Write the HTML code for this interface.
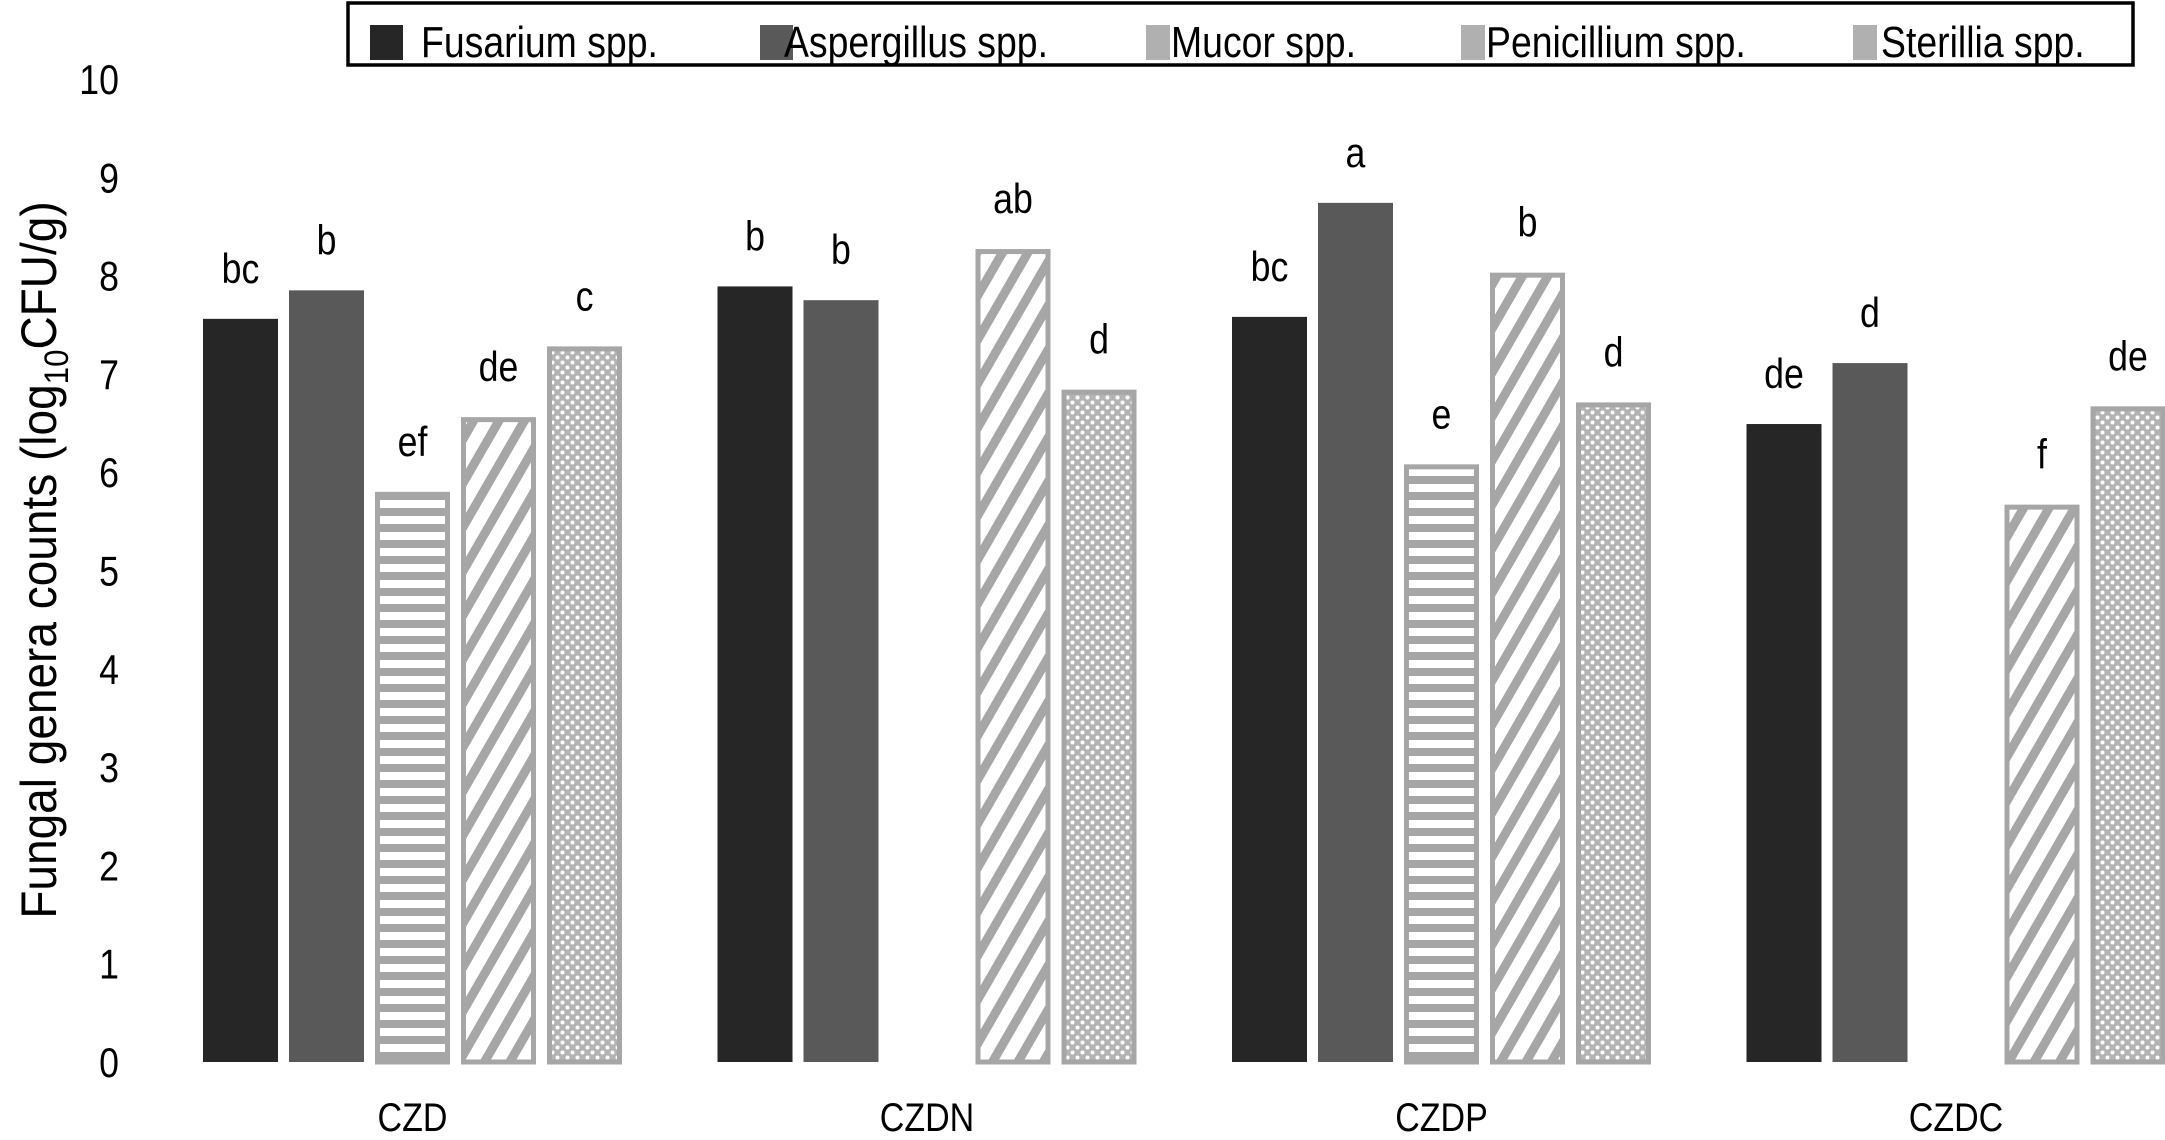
<!DOCTYPE html>
<html><head><meta charset="utf-8"><style>
html,body{margin:0;padding:0;background:#fff;}
svg{display:block;font-family:"Liberation Sans",sans-serif;}
</style></head><body>
<svg id="chart" width="2165" height="1140" viewBox="0 0 2165 1140" xmlns="http://www.w3.org/2000/svg">
<defs>
<pattern id="pat-mucor" patternUnits="userSpaceOnUse" width="20" height="16"><rect width="20" height="16" fill="#a6a6a6"/><rect x="0" y="4" width="20" height="8" fill="#fff"/></pattern>
<pattern id="pat-penic" patternUnits="userSpaceOnUse" width="22" height="22" patternTransform="rotate(30)"><rect width="22" height="22" fill="#fff"/><rect x="0" y="0" width="9" height="22" fill="#a6a6a6"/></pattern>
<pattern id="pat-steril" patternUnits="userSpaceOnUse" width="10" height="10"><rect width="10" height="10" fill="#b3b3b3"/><circle cx="2.5" cy="2.5" r="2" fill="#fff"/><circle cx="7.5" cy="7.5" r="2" fill="#fff"/></pattern>
</defs>
<g id="axes"></g>
<g id="bars"></g>
<g id="legend"></g>
</svg>
<script>
const categories = ["CZD","CZDN","CZDP","CZDC"];
const seriesNames = ["Fusarium spp.","Aspergillus spp.","Mucor spp.","Penicillium spp.","Sterillia spp."];
const fusarium = [7.56, 7.89, 7.58, 6.49];
const aspergillus = [7.85, 7.75, 8.74, 7.11];
const mucor = [5.80, 0, 6.08, 0];
const penicillium = [6.56, 8.27, 8.03, 5.67];
const sterillia = [7.28, 6.84, 6.71, 6.67];
const letFus = ["bc","b","bc","de"];
const letAsp = ["b","b","a","d"];
const letMuc = ["ef","","e",""];
const letPen = ["de","ab","b","f"];
const letSte = ["c","d","d","de"];
const yTicks = [0,1,2,3,4,5,6,7,8,9,10];

const NS = "http://www.w3.org/2000/svg";
const Y0 = 1062, Y10 = 79;
const SX = 0.85;
function yScale(v){ return Y0 - (Y0 - Y10) * v / 10; }
const groupStart = 203, groupStep = 514.5, barStep = 86, barW = 75;
function xBar(ci, si){ return groupStart + ci * groupStep + si * barStep; }
function xCat(ci){ return groupStart + ci * groupStep + (4 * barStep + barW) / 2; }
function mk(tag, attrs, parent){ const e = document.createElementNS(NS, tag); for (const k in attrs) e.setAttribute(k, attrs[k]); parent.appendChild(e); return e; }
function ntext(x, y, size, anchor, parent){ return mk("text", {x: x / SX, y: y, "text-anchor": anchor, "font-size": size, fill: "#000", transform: "scale(" + SX + ",1)"}, parent); }

const fills = ["#262626","#595959","url(#pat-mucor)","url(#pat-penic)","url(#pat-steril)"];
const swatchFills = ["#262626","#595959","#b0b0b0","#b0b0b0","#b0b0b0"];
const values = [fusarium, aspergillus, mucor, penicillium, sterillia];
const letters = [letFus, letAsp, letMuc, letPen, letSte];
const keys = ["fusarium","aspergillus","mucor","penicillium","sterillia"];

const axes = document.getElementById("axes");
yTicks.forEach(t => {
  const tx = ntext(119, yScale(t)+15, 42, "end", axes);
  tx.textContent = t;
  
  
});
const yt = mk("text", {transform:"translate(56,560) rotate(-90) scale(0.92,1)", "text-anchor":"middle", "font-size":50, fill:"#000"}, axes);


yt.innerHTML = 'Fungal genera counts  (log<tspan font-size="34" dy="12">10</tspan><tspan dy="-12">CFU/g)</tspan>';
categories.forEach((c, ci) => {
  const tx = ntext(xCat(ci), 1131, 40, "middle", axes);
  tx.textContent = c;
  
  
});

const bars = document.getElementById("bars");
values.forEach((arr, si) => {
  arr.forEach((v, ci) => {
    if (v <= 0) return;
    const x = xBar(ci, si), y = yScale(v), h = Y0 - y;
    const patterned = si >= 2;
    const r = mk("rect", {x: patterned ? x+2.5 : x, y: patterned ? y+2.5 : y, width: patterned ? barW-5 : barW, height: patterned ? h-2.5 : h, fill: fills[si], stroke: patterned ? "#a6a6a6" : "none", "stroke-width": 5}, bars);
    
    
    const lt = ntext(x + barW/2, y - 36, 42, "middle", bars);
    lt.textContent = letters[si][ci];
    
    
  });
});

const legend = document.getElementById("legend");
const lb = mk("rect", {x:348, y:3, width:1785, height:62, fill:"#fff", stroke:"#000", "stroke-width":3.5}, legend);


const swX = [370, 760, 1146, 1461, 1853];
const txX = [421, 784, 1171, 1486, 1881];
seriesNames.forEach((n, si) => {
  const g = mk("g", {}, legend);
  
  
  const s = mk("rect", {x:swX[si], y:25, width:si<2?33:24, height:35, fill:swatchFills[si]}, g);
  
  
  const t = ntext(txX[si], 57, 44, "start", g);
  t.textContent = n;
  
  
});
</script>
</body></html>
